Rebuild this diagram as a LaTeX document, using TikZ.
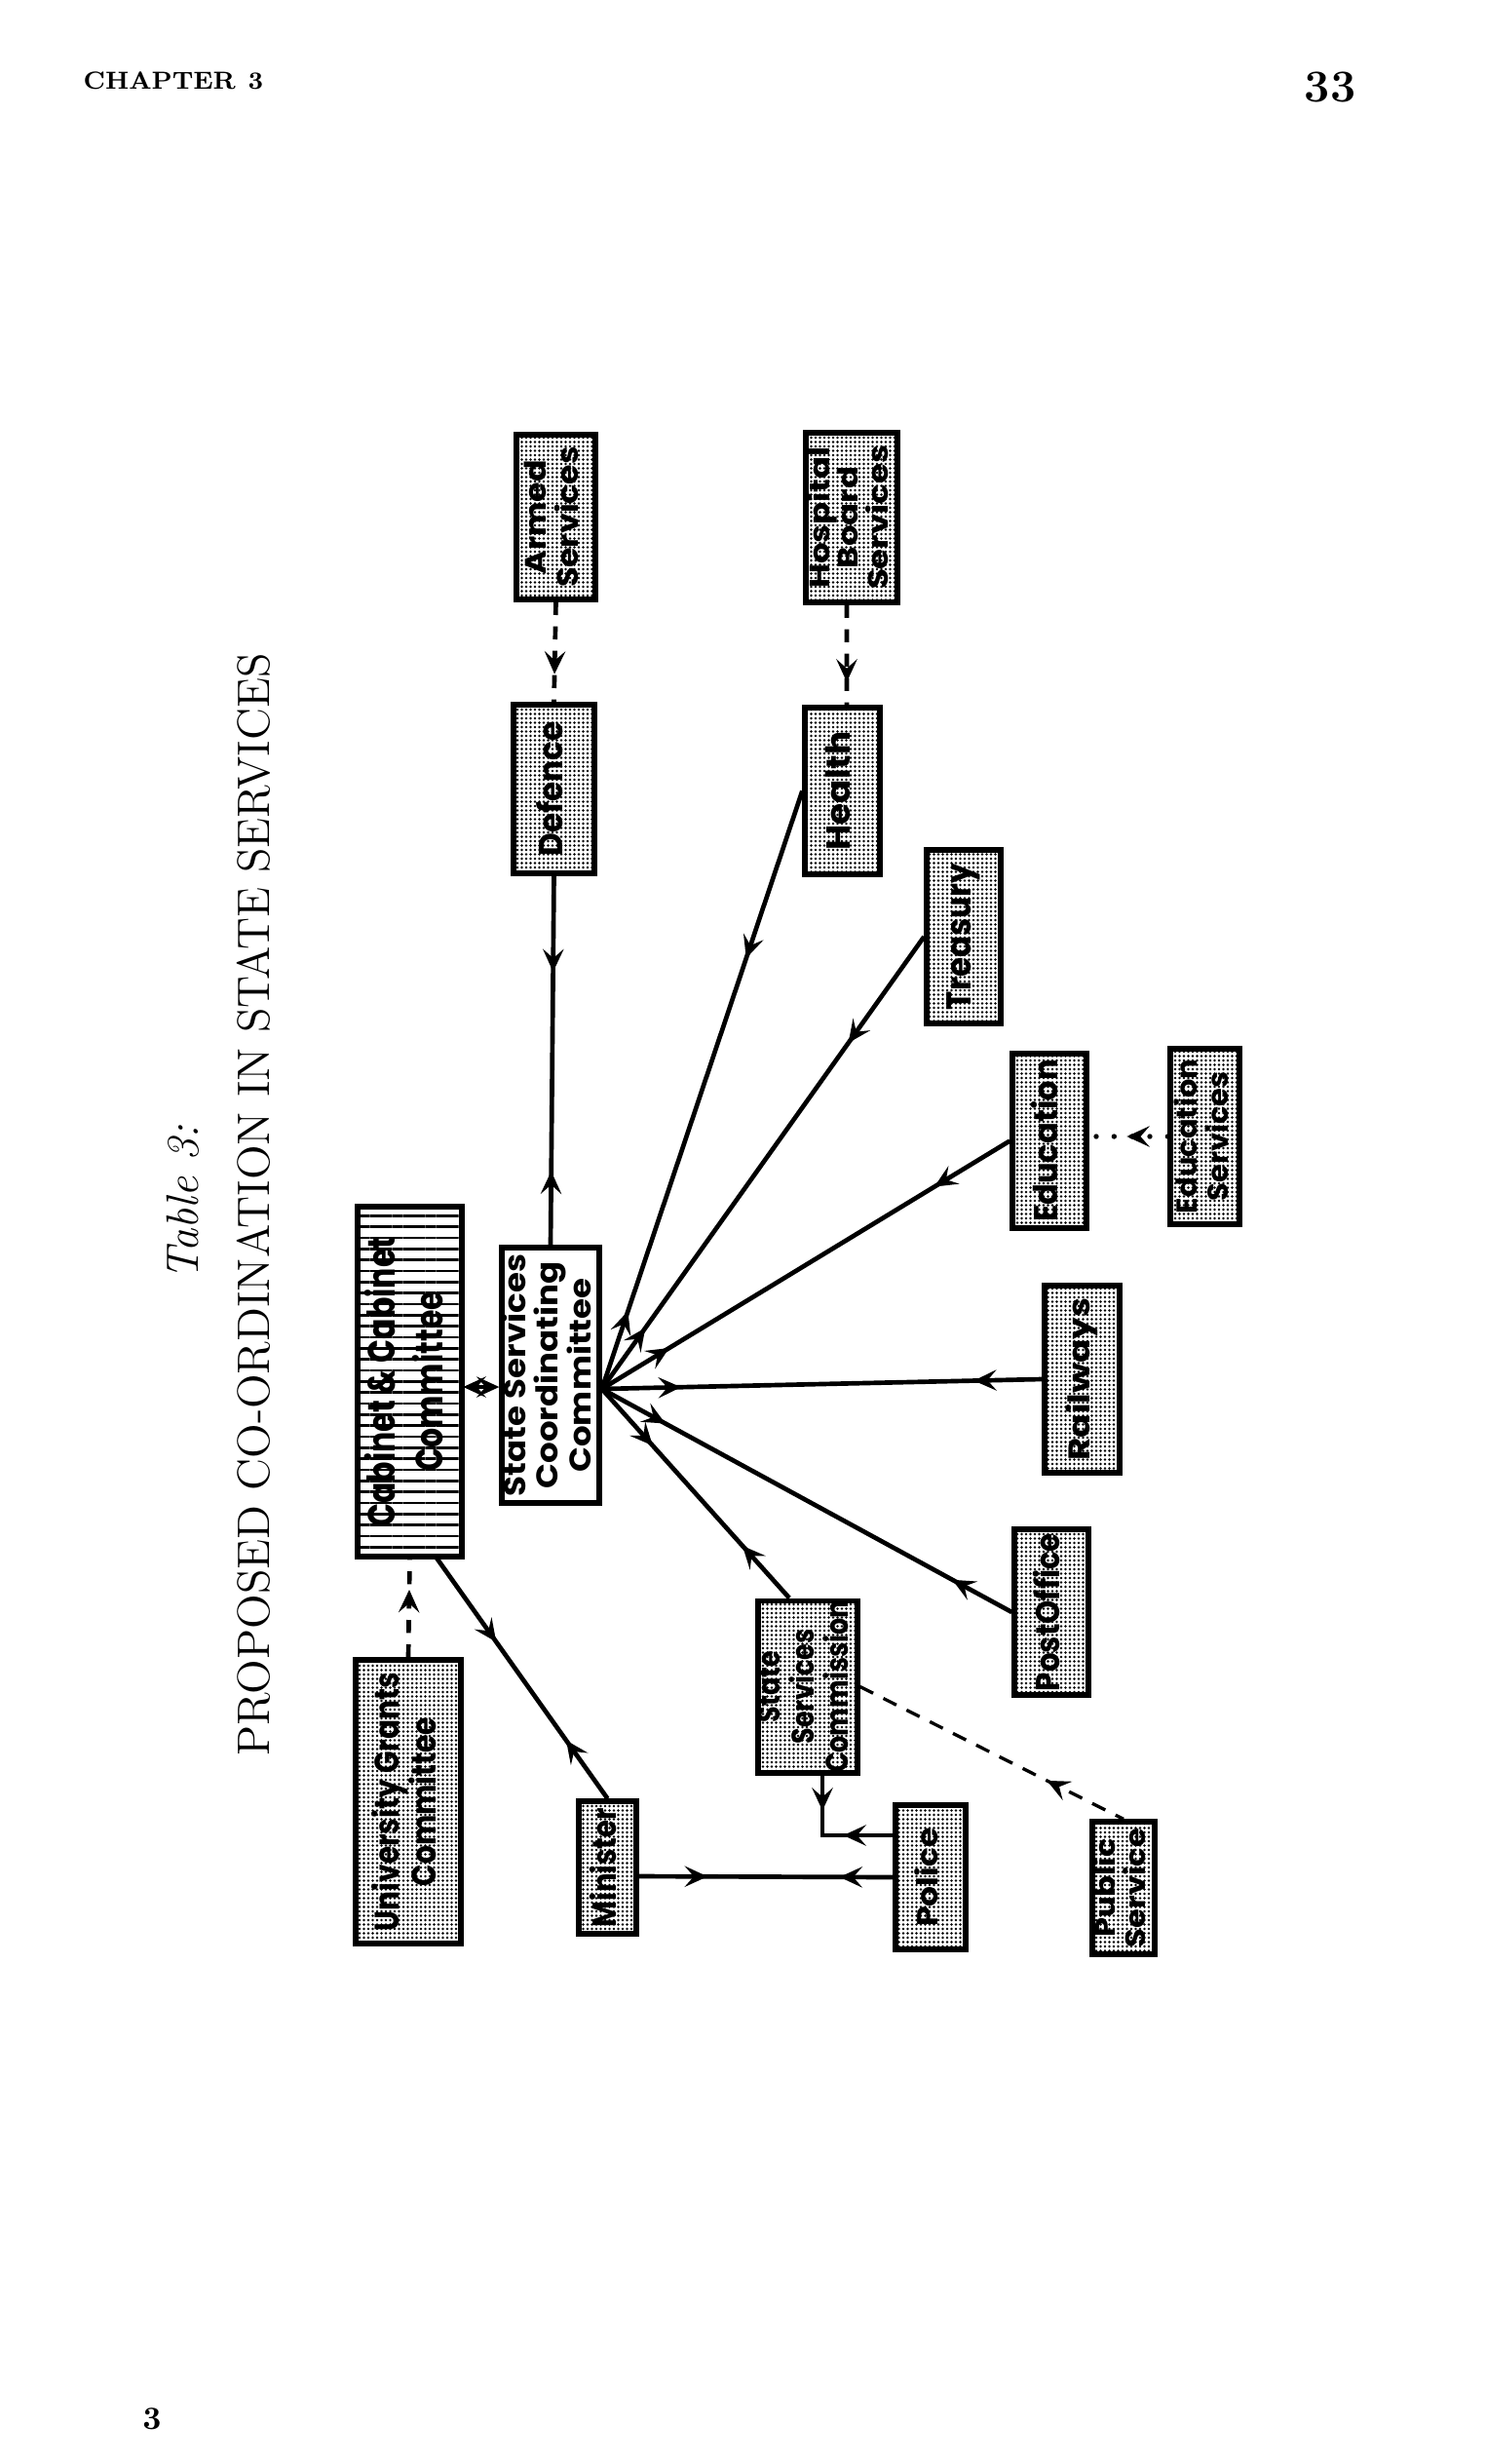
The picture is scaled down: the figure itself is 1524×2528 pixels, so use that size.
\documentclass[tikz,border=0pt]{standalone}
\usepackage{fontspec}
\usepackage{graphicx}
\newfontfamily\boxfont{Poppins}
\usetikzlibrary{arrows.meta,decorations.markings,patterns.meta}
\newcommand\vt[4][9.5]{\rotatebox{90}{\resizebox*{#2pt}{#3pt}{\fontsize{10}{#1}\selectfont\boxfont\bfseries\begin{tabular}{@{}c@{}}#4\end{tabular}}}}
\tikzset{
  tipA/.tip={Stealth[length=7pt,width=6.4pt,inset=2.8pt]},
  fw/.style={postaction={decorate,decoration={markings,mark=at position #1 with {\arrow{tipA}}}}},
  bw/.style={postaction={decorate,decoration={markings,mark=at position #1 with {\arrowreversed{tipA}}}}},
  conn/.style={line width=1.4pt},
  dsh/.style={line width=1.4pt, dash pattern=on 4pt off 3.5pt},
  dotline/.style={line width=1.6pt, line cap=round, dash pattern=on 0pt off 5.5pt},
  thindsh/.style={line width=1pt, dash pattern=on 4.5pt off 3.5pt},
  bxs/.style 2 args={draw, line width=1.6pt, inner sep=0pt, minimum width=#1*0.3pt, minimum height=#2*0.3pt},
  stipple/.style={pattern={Dots[distance=1.35pt,radius=0.42pt]}},
  stripes/.style={pattern={Lines[angle=0,distance=3.4pt,line width=0.8pt]}},
}
\begin{document}
\begin{tikzpicture}[x=0.3pt,y=-0.3pt]
\fill[white] (0,0) rectangle (1524,2528);
\useasboundingbox (0,0) rectangle (1524,2528);

% page furniture
\node[anchor=west, inner sep=0] (chap) at (85,83) {\fontsize{7.6}{9}\selectfont\bfseries CHAPTER\enspace 3};
\node[inner sep=0] (pg) at (1365,89) {\fontsize{14}{16}\selectfont\bfseries 33};
\node[inner sep=0] (pgb) at (156,2482) {\fontsize{10}{12}\selectfont\bfseries 3};
\node[rotate=90, anchor=base, inner sep=0] (tab) at (203,1234) {\fontsize{14}{16}\selectfont\itshape Table 3:};
\node[rotate=90, anchor=base, inner sep=0] (title) at (276,1236) {\fontsize{14}{16}\selectfont PROPOSED CO-ORDINATION IN STATE SERVICES};

% boxes
\node[bxs={81}{169}, stipple] (armed) at (570.5,530.5) {\vt{43.5}{19.2}{Armed\\Services}};
\node[bxs={83}{173}, stipple] (defence) at (568.5,809.5) {\vt{41.4}{11}{Defence}};
\node[bxs={94}{174}, stipple] (hospital) at (874,531) {\vt{44.4}{27.6}{Hospital\\Board\\Services}};
\node[bxs={77}{171}, stipple] (health) at (864.5,811.5) {\vt{36.6}{10.5}{Health}};
\node[bxs={76}{178}, stipple] (treasury) at (989,961) {\vt{45}{10.5}{Treasury}};
\node[bxs={76}{179}, stipple] (education) at (1077,1170.5) {\vt{50}{11.1}{Education}};
\node[bxs={71}{180}, stipple] (eduserv) at (1236.5,1166) {\vt{47.4}{19.2}{Education\\Services}};
\node[bxs={77}{192}, stipple] (railways) at (1110.5,1415) {\vt{50}{10}{Railways}};
\node[bxs={76}{170}, stipple] (postoffice) at (1079,1654) {\vt{48.6}{11.1}{PostOffice}};
\node[bxs={64}{136}, stipple] (public) at (1153,1937) {\vt{36.6}{18.6}{Public\\Service}};
\node[bxs={72}{148}, stipple] (police) at (955,1926) {\vt{30.3}{9.7}{Police}};
\node[bxs={100}{173}, stipple] (ssc) at (829,1730.5) {\vt{53}{30.6}{State\\Services\\Commission}};
\node[bxs={59}{136}, stipple] (minister) at (623.5,1916) {\vt{36.6}{11.1}{Minister}};
\node[bxs={108}{291}, stipple] (ugc) at (419,1848.5) {\vt{79.5}{22.8}{University Grants\\Committee}};
\node[bxs={107}{359}, stripes] (cabinet) at (420.5,1417.5) {\vt[12.5]{89.4}{29.4}{Cabinet \& Cabinet\\Committee}};
\node[bxs={100}{262}, fill=white] (sscc) at (565,1411) {\vt{74.4}{30}{State Services\\Coordinating\\Committee}};

% connectors
\coordinate (hub) at ([yshift=-4.2pt]sscc.east);
\draw[dsh, fw=0.72] (armed.south) -- (defence.north);
\draw[dsh, fw=0.77] ([xshift=-1.5pt]hospital.south) -- ([xshift=1.35pt]health.north);
\draw[conn, fw=0.26, bw=0.80] (defence.south) -- (sscc.north);
\draw[conn, fw=0.28, bw=0.87] (health.west) -- (hub);
\draw[conn, fw=0.235, bw=0.865] (treasury.west) -- (hub);
\draw[conn, fw=0.185, bw=0.835] (education.west) -- (hub);
\draw[conn, fw=0.155, bw=0.82] (railways.west) -- (hub);
\draw[conn, fw=0.145, bw=0.845] (postoffice.west) -- (hub);
\draw[conn, fw=0.25, bw=0.73] ([xshift=-5.7pt]ssc.north) -- (hub);
\coordinate (cbl) at ([yshift=-1.65pt]cabinet.east);
\draw[conn, arrows={tipA-tipA}] (cbl) -- (cbl -| sscc.west);
\draw[dsh, fw=0.68] (ugc.north) -- (cabinet.south);
\draw[conn, fw=0.35, bw=0.76] ([xshift=8.25pt]cabinet.south) -- (minister.north);
\draw[conn, fw=0.27, bw=0.79] ([yshift=-2.7pt]minister.east) -- (police.west);
\coordinate (sscb) at ([xshift=4.5pt]ssc.south);
\coordinate (polw) at ([yshift=12.9pt]police.west);
\coordinate (corner) at (sscb |- polw);
\draw[conn, fw=0.27, bw=0.62] (sscb) -- (corner) -- (polw);
\draw[thindsh, bw=0.71] (ssc.east) -- (public.north);
\draw[dotline, fw=0.52] (eduserv.west) -- (eduserv.west -| education.east);
\end{tikzpicture}
\end{document}
